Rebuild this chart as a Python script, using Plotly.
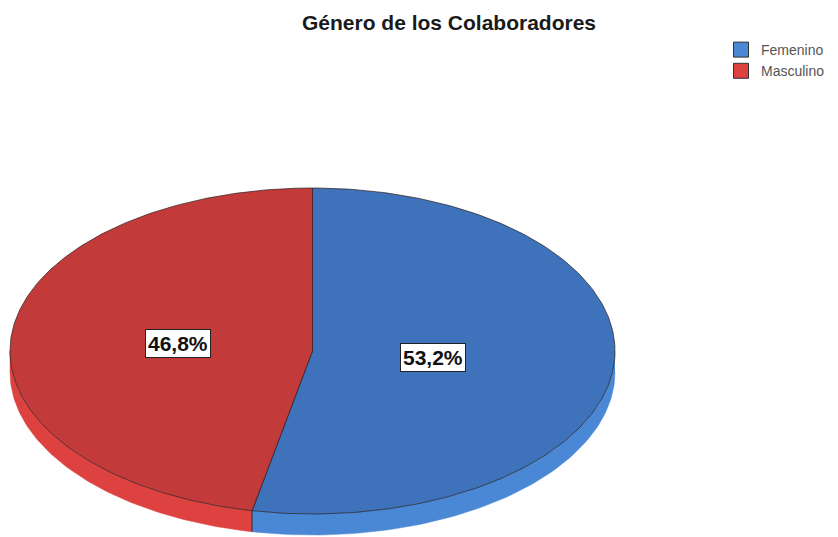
import math
import plotly.graph_objects as go

# ---- data ----
categories = ["Femenino", "Masculino"]
percentages = [53.2, 46.8]
top_colors = ["#3e72ba", "#c33a3a"]
rim_colors = ["#4a88d6", "#dd4240"]
title_text = "Género de los Colaboradores"

# ---- geometry / style (pixel space) ----
W, H = 838, 537
CX, CY = 312.5, 351   # ellipse centre
A, B = 302.5, 163     # semi-axes
DEPTH = 21            # rim thickness
LABEL_R = [0.40, 0.447]


def pt(theta_deg, r=1.0, dy=0.0):
    t = math.radians(theta_deg)
    return CX + A * r * math.sin(t), CY - B * r * math.cos(t) + dy


fig = go.Figure()

total = sum(percentages)
starts = []
acc = 0.0
for v in percentages:
    starts.append(acc / total * 360.0)
    acc += v

# rims (side walls) first
for i, v in enumerate(percentages):
    s = starts[i]
    e = s + v / total * 360.0
    lo, hi = max(s, 90.0), min(e, 270.0)
    if hi <= lo:
        continue
    n = 80
    angs = [lo + (hi - lo) * k / n for k in range(n + 1)]
    xs = [pt(a)[0] for a in angs] + [pt(a, dy=DEPTH)[0] for a in reversed(angs)]
    ys = [pt(a)[1] for a in angs] + [pt(a, dy=DEPTH)[1] for a in reversed(angs)]
    fig.add_trace(go.Scatter(x=xs, y=ys, mode="lines", fill="toself",
                             fillcolor=rim_colors[i],
                             line=dict(color=rim_colors[i], width=0.5),
                             showlegend=False, hoverinfo="skip"))

# seam line on the rim
s_end = starts[1]
sx, sy = pt(s_end)
sx2, sy2 = pt(s_end, dy=DEPTH)
fig.add_trace(go.Scatter(x=[sx, sx2], y=[sy, sy2], mode="lines",
                         line=dict(color="rgba(40,30,30,0.85)", width=1),
                         showlegend=False, hoverinfo="skip"))

# top faces
for i, v in enumerate(percentages):
    s = starts[i]
    e = s + v / total * 360.0
    n = 200
    angs = [s + (e - s) * k / n for k in range(n + 1)]
    xs = [CX] + [pt(a)[0] for a in angs] + [CX]
    ys = [CY] + [pt(a)[1] for a in angs] + [CY]
    fig.add_trace(go.Scatter(x=xs, y=ys, mode="lines", fill="toself",
                             fillcolor=top_colors[i],
                             line=dict(color="rgba(40,30,30,0.7)", width=1),
                             showlegend=False, hoverinfo="skip"))

# legend entries
for i, name in enumerate(categories):
    fig.add_trace(go.Scatter(x=[None], y=[None], mode="markers", name=name,
                             marker=dict(symbol="square", size=15,
                                         color=rim_colors[i],
                                         line=dict(color="#333", width=1)),
                             hoverinfo="skip"))

# labels
for i, v in enumerate(percentages):
    mid = starts[i] + v / total * 180.0
    x, y = pt(mid, r=LABEL_R[i])
    fig.add_annotation(x=x, y=y, xref="x", yref="y",
                       text=f"<b>{v:.1f}".replace(".", ",") + "%</b>",
                       showarrow=False, bgcolor="white",
                       bordercolor="#222", borderwidth=1, borderpad=2,
                       font=dict(family="Liberation Sans", size=21, color="#111"))

fig.update_layout(
    width=W, height=H,
    margin=dict(l=0, r=0, t=0, b=0),
    paper_bgcolor="white", plot_bgcolor="white",
    xaxis=dict(range=[0, W], visible=False, fixedrange=True),
    yaxis=dict(range=[H, 0], visible=False, fixedrange=True),
    title=dict(text=f"<b>{title_text}</b>", x=449 / W, xanchor="center",
               y=1 - 23 / H, yanchor="middle",
               font=dict(family="Liberation Sans", size=21, color="#1a1a1a")),
    legend=dict(x=721 / W, y=1 - 34 / H, xanchor="left", yanchor="top",
                font=dict(family="Liberation Sans", size=14, color="#555"),
                bgcolor="rgba(0,0,0,0)", tracegroupgap=0),
    showlegend=True,
)

fig.write_html("out.html", config={"displayModeBar": False},
               post_script="document.body.style.margin='0';document.body.style.overflow='hidden';")
